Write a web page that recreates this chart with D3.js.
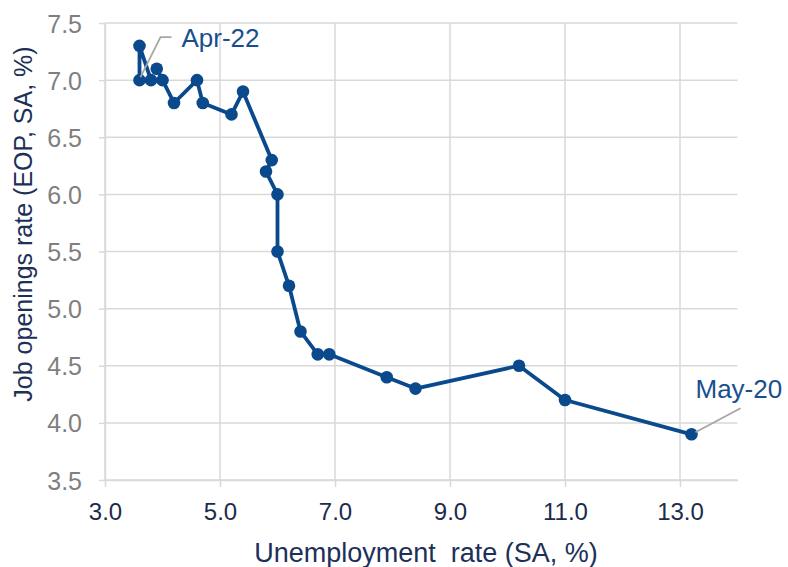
<!DOCTYPE html>
<html>
<head>
<meta charset="utf-8">
<script src="https://cdn.jsdelivr.net/npm/d3@7"></script>
<style>
  html, body { margin: 0; padding: 0; background: #ffffff; }
  svg { display: block; font-family: "Liberation Sans", Arial, sans-serif; }
</style>
</head>
<body>
<svg id="chart" width="788" height="567"></svg>
<script>
// Beveridge curve: unemployment rate vs job openings rate, May-20 to Apr-22
const unemploymentRate = [13.2, 11.0, 10.2, 8.4, 7.9, 6.9, 6.7, 6.4, 6.2, 6.0, 6.0, 5.8,
                          5.9, 5.4, 5.2, 4.7, 4.6, 4.2, 3.9, 4.0, 3.8, 3.6, 3.6];
const jobOpeningsRate  = [3.9, 4.2, 4.5, 4.3, 4.4, 4.6, 4.6, 4.8, 5.2, 5.5, 6.0, 6.2,
                          6.3, 6.9, 6.7, 6.8, 7.0, 6.8, 7.1, 7.0, 7.0, 7.3, 7.0];
const xTickValues = [3.0, 5.0, 7.0, 9.0, 11.0, 13.0];
const yTickValues = [3.5, 4.0, 4.5, 5.0, 5.5, 6.0, 6.5, 7.0, 7.5];
const firstLabel = "May-20";
const lastLabel = "Apr-22";
const xTitle = "Unemployment  rate (SA, %)";
const yTitle = "Job openings rate (EOP, SA, %)";

const points = unemploymentRate.map((u, i) => ({ u, j: jobOpeningsRate[i] }));

const svg = d3.select("#chart");
const x = d3.scaleLinear().domain([3, 14]).range([105, 737.5]);
const y = d3.scaleLinear().domain([3.5, 7.5]).range([480, 23]);

const gridColor = "#d9d9d9";

// gridlines
svg.append("g").selectAll("line").data(yTickValues).join("line")
  .attr("x1", x(3)).attr("x2", x(14))
  .attr("y1", d => y(d)).attr("y2", d => y(d))
  .attr("stroke", gridColor).attr("stroke-width", 1.5);
svg.append("g").selectAll("line").data(xTickValues).join("line")
  .attr("x1", d => x(d)).attr("x2", d => x(d))
  .attr("y1", y(3.5)).attr("y2", y(7.5))
  .attr("stroke", gridColor).attr("stroke-width", 1.5);

// axes
const xAxis = svg.append("g").attr("transform", `translate(0,${y(3.5)})`)
  .call(d3.axisBottom(x).tickValues(xTickValues).tickFormat(d3.format(".1f"))
        .tickSize(7).tickSizeOuter(0).tickPadding(16));
const yAxis = svg.append("g").attr("transform", `translate(${x(3)},0)`)
  .call(d3.axisLeft(y).tickValues(yTickValues).tickFormat(d3.format(".1f"))
        .tickSize(6).tickSizeOuter(0).tickPadding(17));
[xAxis, yAxis].forEach(g => {
  g.select(".domain").attr("stroke", gridColor).attr("stroke-width", 1.5);
  g.selectAll(".tick line").attr("stroke", gridColor).attr("stroke-width", 1.5);
  g.selectAll("text").attr("font-family", "Liberation Sans, Arial, sans-serif");
});
xAxis.selectAll("text").attr("font-size", 24).attr("fill", "#1b2b4b");
yAxis.selectAll("text").attr("font-size", 25).attr("fill", "#7f7f7f").attr("dy", "0.36em");

// axis titles
svg.append("text")
  .attr("x", 426).attr("y", 562)
  .attr("text-anchor", "middle").attr("font-size", 27).attr("fill", "#1c305a")
  .attr("xml:space", "preserve").style("white-space", "pre")
  .text(xTitle);
svg.append("text")
  .attr("transform", "translate(32,224) rotate(-90)")
  .attr("text-anchor", "middle").attr("font-size", 25).attr("fill", "#1c305a")
  .text(yTitle);

// connected path
const lineColor = "#0a4a8c";
svg.append("path").datum(points)
  .attr("fill", "none").attr("stroke", lineColor).attr("stroke-width", 3.8)
  .attr("stroke-linejoin", "round")
  .attr("d", d3.line().x(d => x(d.u)).y(d => y(d.j)));
svg.append("g").selectAll("circle").data(points).join("circle")
  .attr("cx", d => x(d.u)).attr("cy", d => y(d.j)).attr("r", 6.3)
  .attr("fill", lineColor);

// endpoint annotations with leader lines
const first = points[0], last = points[points.length - 1];
const leader = "#a6a6a6", labelColor = "#1a4f8f";
svg.append("path")
  .attr("d", `M${x(first.u) + 4},${y(first.j) - 2} L${x(first.u) + 49},${y(first.j) - 26}`)
  .attr("stroke", leader).attr("stroke-width", 1.8).attr("fill", "none");
svg.append("text")
  .attr("x", x(first.u) + 4).attr("y", y(first.j) - 36)
  .attr("font-size", 26).attr("fill", labelColor).text(firstLabel);

svg.append("path")
  .attr("d", `M${x(last.u) + 1},${y(last.j) - 3} L${x(last.u) + 21},${y(last.j) - 43} L${x(last.u) + 32},${y(last.j) - 43}`)
  .attr("stroke", leader).attr("stroke-width", 1.8).attr("fill", "none");
svg.append("text")
  .attr("x", x(last.u) + 42).attr("y", y(last.j) - 33)
  .attr("font-size", 26).attr("fill", labelColor).text(lastLabel);
</script>
</body>
</html>
